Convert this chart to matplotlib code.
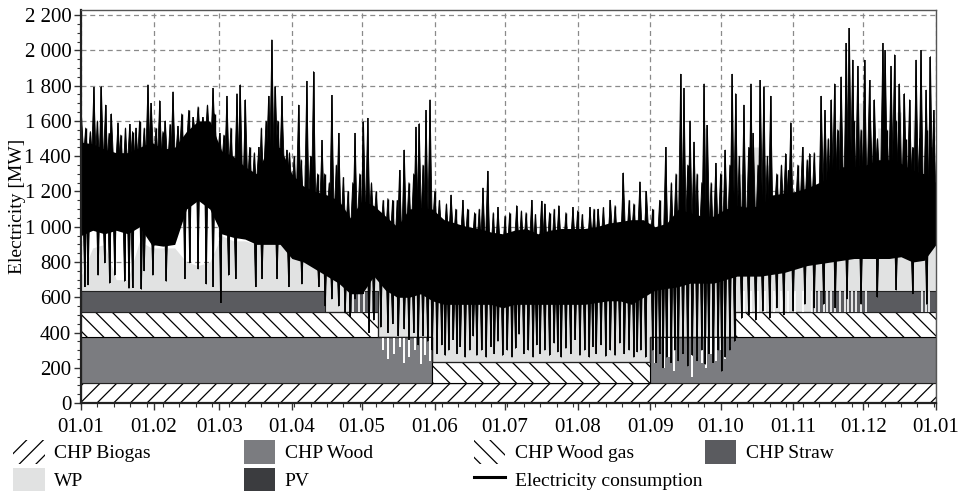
import numpy as np
import matplotlib.pyplot as plt
from matplotlib.patches import Patch
from matplotlib.lines import Line2D
from matplotlib.collections import PolyCollection
from matplotlib.ticker import FuncFormatter, MultipleLocator

plt.rcParams['font.family'] = ['Liberation Serif', 'DejaVu Serif']
plt.rcParams['hatch.linewidth'] = 0.9

# --- month axis (day of year) ---
month_days = [0, 31, 59, 90, 120, 151, 181, 212, 243, 273, 304, 334, 365]
month_labels = ['01.01', '01.02', '01.03', '01.04', '01.05', '01.06', '01.07',
                '01.08', '01.09', '01.10', '01.11', '01.12', '01.01']

# --- CHP schedule, step segments (start day of each segment) [MW] ---
seg_start = [0, 104, 115, 127, 150, 243, 279, 312]
chp_biogas = [115, 115, 115, 115, 115, 115, 115, 115]
chp_wood = [260, 260, 260, 260, 0, 260, 260, 260]
chp_woodgas = [140, 140, 140, 0, 120, 0, 140, 140]
chp_straw = [120, 0, 120, 0, 0, 0, 0, 120]

# --- 5-day grid [MW] ---
grid_days = list(range(0, 366, 5))
cons_high = [1480, 1470, 1440, 1420, 1420, 1450, 1480, 1440, 1450, 1540,
             1600, 1600, 1430, 1400, 1340, 1300, 1450, 1450, 1300, 1230,
             1200, 1180, 1150, 1050, 1150, 1120, 1060, 1000, 1100, 1110,
             1100, 1040, 1020, 1000, 990, 970, 960, 980, 990, 960,
             980, 990, 990, 990, 1000, 1020, 1030, 1040, 1040, 1000,
             1020, 1100, 1080, 1060, 1060, 1100, 1120, 1110, 1120, 1180,
             1190, 1200, 1220, 1250, 1280, 1340, 1340, 1350, 1380, 1380,
             1360, 1320, 1300, 1250]
cons_low = [950, 980, 960, 980, 960, 1000, 900, 890, 900, 1100,
            1150, 1100, 960, 940, 930, 900, 900, 900, 820, 800,
            760, 720, 680, 620, 620, 720, 640, 600, 600, 620,
            580, 560, 560, 560, 560, 560, 540, 560, 560, 560,
            560, 560, 560, 560, 570, 580, 580, 560, 600, 640,
            650, 660, 680, 680, 680, 700, 720, 720, 720, 730,
            740, 760, 780, 790, 800, 810, 820, 820, 820, 820,
            830, 800, 810, 900]
wp_top = [720, 880, 900, 700, 700, 920, 880, 880, 880, 800,
          780, 800, 950, 920, 920, 900, 900, 900, 830, 820,
          780, 740, 700, 660, 660, 720, 660, 640, 640, 640,
          600, 600, 600, 600, 600, 600, 600, 600, 600, 600,
          600, 600, 600, 600, 600, 600, 600, 600, 600, 680,
          680, 700, 700, 700, 700, 720, 740, 740, 740, 750,
          760, 790, 810, 820, 830, 840, 850, 850, 850, 850,
          850, 830, 830, 900]

# tall consumption peaks above the dense band (day, MW)
peak_days = [0.2, 5.5, 8.7, 10.5, 13, 15.8, 20.8, 23.5, 28.6, 30, 33.6, 36, 39.3,
             41.4, 48, 52, 56.4, 59.2, 62.3, 66.6, 68, 70.2, 75.9, 80.1, 81.5,
             83, 85.8, 87.9, 92.9, 96.4, 99.3, 102.9, 107.1, 110, 117, 120.6,
             122.4, 136, 138, 143, 144.4, 147.3, 149, 158, 163, 171.6, 173.6,
             178, 186, 192.4, 196.6, 198, 204, 210, 217.3, 220.8, 226, 231.5,
             238.6, 241.4, 249.6, 256, 257.4, 260, 261.7, 266, 267.4, 271, 275,
             278, 279.5, 283, 286, 287, 290, 291.5, 294.4, 300.8, 303, 308, 311,
             316, 317.6, 320.3, 321.7, 324.5, 326.7, 328, 329.4, 331.6, 334.5,
             336.6, 338.7, 342.3, 343.3, 345.8, 347.3, 349.4, 351.5, 353.7,
             356.5, 358.6, 360.8, 362.6, 364]
peak_vals = [1640, 1790, 1795, 1690, 1640, 1590, 1580, 1560, 1805, 1700, 1715, 1600,
             1765, 1570, 1620, 1620, 1785, 1530, 1740, 1755, 1805, 1720, 1450, 1740,
             2060, 1795, 1740, 1435, 1690, 1825, 1880, 1490, 1745, 1530, 1530, 1595,
             1615, 1320, 1435, 1565, 1585, 1660, 1720, 1180, 1150, 1220, 1315, 1110,
             1120, 1150, 1145, 1130, 1120, 1110, 1110, 1100, 1150, 1305, 1255, 1200,
             1450, 1865, 1785, 1600, 1480, 1810, 1575, 1360, 1435, 1865, 1755, 1690,
             1810, 1530, 1830, 1795, 1740, 1415, 1590, 1450, 1415, 1740, 1660, 1720,
             1810, 1850, 2040, 2125, 1945, 1910, 1945, 1830, 1720, 2040, 2000, 1910,
             1975, 1810, 1755, 1720, 1945, 2000, 1775, 1965, 1660]

# smaller daily peaks along the top of the band (day, MW)
minor_days = [2, 4, 7, 12, 17, 19, 22, 25, 27, 32, 35, 38, 43, 46, 50, 54, 57,
              61, 64, 72, 74, 77, 79, 84, 89, 91, 94, 98, 101, 104, 106, 109, 112,
              114, 116, 119, 124, 126, 129, 131, 133, 135, 140, 142, 146, 151, 153,
              156, 160, 165, 168, 170, 176, 181, 183, 188, 190, 194, 200, 202, 207,
              212, 214, 219, 223, 228, 234, 236, 244, 247, 252, 254, 259, 263, 265,
              269, 273, 277, 281, 285, 289, 293, 297, 299, 302, 306, 310, 313, 319,
              323, 330, 333, 337, 340, 344, 348, 352, 355, 358, 361, 363]
minor_vals = [1560, 1540, 1600, 1530, 1520, 1560, 1540, 1600, 1560, 1560, 1540, 1580,
              1640, 1660, 1680, 1690, 1640, 1520, 1560, 1450, 1420, 1560, 1600, 1600,
              1420, 1400, 1380, 1400, 1300, 1300, 1250, 1350, 1280, 1200, 1250, 1300,
              1250, 1200, 1150, 1160, 1150, 1150, 1250, 1300, 1350, 1200, 1150, 1130,
              1100, 1100, 1080, 1100, 1080, 1060, 1080, 1090, 1080, 1070, 1080, 1100,
              1080, 1090, 1070, 1100, 1110, 1120, 1150, 1130, 1100, 1150, 1250, 1300,
              1350, 1300, 1250, 1250, 1300, 1350, 1400, 1450, 1350, 1400, 1300, 1350,
              1320, 1350, 1380, 1420, 1500, 1550, 1600, 1550, 1600, 1500, 1550, 1600,
              1500, 1450, 1500, 1550, 1450]

# consumption troughs below the dense band (day, MW)
trough_days = [1.6, 3, 7.3, 10.1, 12.2, 14.4, 18.6, 20.5, 22, 25.8, 27, 30.7, 36.4,
               44.3, 46.4, 50, 53.5, 56.4, 59.6, 63, 66, 74.5, 77.3, 83.7, 88.7,
               94.3, 101.5, 104.3, 107.1, 110, 112.8, 115, 117, 120.6, 123, 125,
               128, 131, 133, 135.5, 138, 140, 142, 144, 146, 148, 150, 152, 154,
               155.5, 157, 159, 160.5, 162, 164, 166, 167.5, 169, 171, 173, 175,
               176.5, 178, 180, 182, 184, 185.5, 187, 189, 191, 193, 194.5, 196,
               198, 200, 202, 203.5, 205, 207, 209, 211, 213, 215, 217, 218.5, 220,
               222, 224, 226, 228, 230, 232, 234, 236, 237.5, 239, 241, 244, 245.5,
               247, 248.5, 250, 252, 253.5, 255, 257, 259, 261, 263, 265, 266.5,
               268, 270, 272, 273.5, 275, 277, 279, 282, 285, 288, 291, 294, 297,
               300, 304, 309, 313, 317, 322, 327, 333, 340, 348, 355, 361]
trough_vals = [660, 670, 725, 795, 680, 725, 690, 650, 655, 645, 750, 725, 690,
               705, 795, 760, 675, 660, 570, 725, 705, 660, 705, 705, 660,
               675, 660, 550, 590, 550, 510, 490, 590, 620, 400, 470,
               430, 400, 450, 380, 420, 360, 400, 330, 380, 350, 300, 280, 330,
               270, 300, 360, 280, 320, 260, 300, 380, 270, 300, 260, 320,
               280, 350, 270, 300, 260, 310, 390, 280, 300, 260, 330, 280,
               300, 270, 340, 290, 260, 310, 280, 360, 270, 300, 260, 320, 280,
               330, 265, 300, 270, 340, 280, 300, 260, 290, 300, 260, 300, 230,
               280, 200, 260, 230, 300, 240, 280, 210, 270, 240, 300, 220,
               280, 230, 300, 180, 260, 300, 350, 480, 500, 470, 520, 480, 540,
               500, 520, 560, 540, 560, 540, 590, 560, 600, 640, 620, 560]

# WP output above the consumption band (day, MW)
wp_peak_days = [96, 266.5, 282, 288, 293, 318, 323, 333, 341, 349, 356, 363]
wp_peak_vals = [1350, 1560, 1300, 1450, 1350, 1500, 1600, 1700, 1560, 1650, 1600, 1500]

# hours without straw / reduced wood output (day, lower MW)
straw_gap_days = [116, 118.5, 121, 124, 283, 286, 289, 292, 296, 299, 302, 305, 308,
                  312, 313.5, 315, 317, 318.5, 320, 322, 324, 326, 327.5, 329, 331,
                  333, 335, 359, 360.5, 362]
wood_dip_days = [129, 131, 133.5, 136, 138, 140, 142.5, 145, 147, 149,
                 245, 247, 249, 251, 253, 255, 257, 259, 261, 263, 265, 267,
                 269, 271, 273, 275, 277]
wood_dip_vals = [300, 250, 280, 320, 230, 260, 300, 220, 270, 240,
                 230, 290, 200, 260, 180, 240, 290, 210, 150, 260, 230, 200,
                 280, 240, 300, 250, 320]

c_wood = '#7b7c80'
c_straw = '#5a5b5f'
c_wp = '#e1e2e2'
c_pv = '#3b3c3f'


def spike_polys(days, tips, bases, half_width):
    # narrow triangles: broad base (several hours) tapering to the peak hour
    return [[(d - half_width, b), (d, t), (d + half_width, b)]
            for d, t, b in zip(days, tips, bases)]


fig = plt.figure(figsize=(9.64, 4.91), dpi=100)
ax = fig.add_axes([0.084, 0.179, 0.887, 0.801])
ax.set_axisbelow(True)
ax.grid(True, which='major', color='#8a8a8a', linestyle=(0, (4, 3)), lw=0.9)

# WP (light grey) underneath, CHP bands on top of it
ax.fill_between(grid_days, 0, wp_top, color=c_wp, lw=0, zorder=1)

seg_x = seg_start + [365]


def ext(v):
    return list(v) + [v[-1]]


b0 = np.zeros(len(seg_x))
b1 = b0 + ext(chp_biogas)
b2 = b1 + ext(chp_wood)
b3 = b2 + ext(chp_woodgas)
b4 = b3 + ext(chp_straw)
ax.fill_between(seg_x, b0, b1, step='post', facecolor='white', edgecolor='black',
                hatch='//', lw=0.8, zorder=2)
ax.fill_between(seg_x, b1, b2, step='post', facecolor=c_wood, edgecolor='#222222',
                lw=0.8, zorder=2)
ax.fill_between(seg_x, b2, b3, step='post', facecolor='white', edgecolor='black',
                hatch='\\\\', lw=0.8, zorder=2)
ax.fill_between(seg_x, b3, b4, step='post', facecolor=c_straw, edgecolor='#222222',
                lw=0.8, zorder=2)

ax.vlines(straw_gap_days, 515, 635, color='white', lw=1.2, zorder=3)
ax.vlines(wood_dip_days, wood_dip_vals, 372, color='white', lw=1.4, zorder=3)
ax.vlines(wp_peak_days, np.interp(wp_peak_days, grid_days, cons_low), wp_peak_vals,
          color=c_wp, lw=3.5, zorder=3)

# electricity consumption: dense daily band plus peaks and troughs
ax.fill_between(grid_days, cons_low, cons_high, color='black', lw=0, zorder=4)

peak_base = np.interp(peak_days, grid_days, cons_high) - 60
minor_base = np.interp(minor_days, grid_days, cons_high) - 60
trough_base = np.interp(trough_days, grid_days, cons_low) + 60
polys = (spike_polys(peak_days, peak_vals, peak_base, 0.9)
         + spike_polys(minor_days, minor_vals, minor_base, 0.8)
         + spike_polys(trough_days, trough_vals, trough_base, 0.6))
ax.add_collection(PolyCollection(polys, facecolors='black', edgecolors='black',
                                 linewidths=0.6, zorder=4))
ax.vlines(peak_days, peak_base, peak_vals, color='black', lw=1.1, zorder=4)
ax.vlines(minor_days, minor_base, minor_vals, color='black', lw=1.0, zorder=4)
ax.vlines(trough_days, trough_vals, trough_base, color='black', lw=1.3, zorder=4)

ax.set_xlim(0, 365)
ax.set_ylim(0, 2230)
ax.set_xticks(month_days)
ax.set_xticklabels(month_labels)
ax.xaxis.set_minor_locator(MultipleLocator(7))
ax.set_yticks(range(0, 2201, 200))
ax.yaxis.set_minor_locator(MultipleLocator(50))
ax.yaxis.set_major_formatter(FuncFormatter(lambda v, p: f"{int(v):,}".replace(",", " ")))
ax.tick_params(axis='both', which='major', labelsize=15, length=5, width=1, color='#333333')
ax.tick_params(axis='both', which='minor', length=3, width=0.8, color='#333333')
ax.tick_params(axis='x', pad=6)
ax.tick_params(axis='y', pad=2)

for s in ['left', 'bottom']:
    ax.spines[s].set_linewidth(1.6)
    ax.spines[s].set_color('#222222')
for s in ['top', 'right']:
    ax.spines[s].set_linewidth(1.0)
    ax.spines[s].set_color('#555555')
for s in ax.spines.values():
    s.set_zorder(6)

ax.set_ylabel('Electricity [MW]', fontsize=14)
ax.yaxis.set_label_coords(-0.064, 0.5)

# legend in four columns
columns = [
    [(Patch(facecolor='white', edgecolor='black', hatch='//', lw=0), 'CHP Biogas'),
     (Patch(facecolor=c_wp, edgecolor='none'), 'WP')],
    [(Patch(facecolor=c_wood, edgecolor='none'), 'CHP Wood'),
     (Patch(facecolor=c_pv, edgecolor='none'), 'PV')],
    [(Patch(facecolor='white', edgecolor='black', hatch='\\\\', lw=0), 'CHP Wood gas'),
     (Line2D([], [], color='black', lw=2.2), 'Electricity consumption')],
    [(Patch(facecolor=c_straw, edgecolor='none'), 'CHP Straw')],
]
col_x = [0.014, 0.253, 0.492, 0.731]
for cx, entries in zip(col_x, columns):
    fig.legend([e[0] for e in entries], [e[1] for e in entries],
               loc='upper left', bbox_to_anchor=(cx, 0.104), frameon=False,
               fontsize=14, handlelength=1.6, handleheight=1.5, handletextpad=0.5,
               borderaxespad=0, borderpad=0, labelspacing=0.2)

fig.savefig('out.png', dpi=100)
